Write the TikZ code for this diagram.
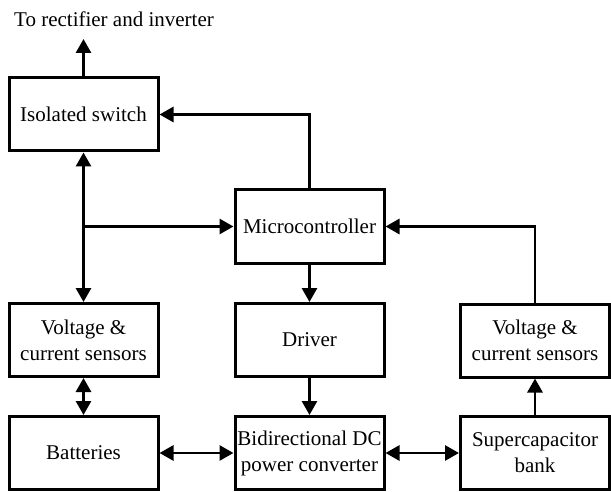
\documentclass[tikz,border=0pt]{standalone}
\usepackage{fontspec}
\setmainfont{Liberation Serif}
\usetikzlibrary{arrows.meta}

\tikzset{
    block/.style={draw, line width=1.5pt, minimum width=74.5pt, minimum height=36.5pt,
        inner sep=1pt, align=center, font=\fontsize{10.5}{13}\selectfont},
    link/.style={line width=1.4pt},
}

\begin{document}
\begin{tikzpicture}[x=0.5pt, y=-0.5pt, >={Triangle[length=7pt,width=7.5pt]}]
        \useasboundingbox (0,0) rectangle (611,492);

        % Blocks
        \node[block] (switch) at (83.5,114.5) {Isolated switch};
        \node[block] (micro) at (309.5,226.5) {Microcontroller};
        \node[block] (sensL) at (83.5,340) {Voltage \&\\current sensors};
        \node[block] (driver) at (309.5,340) {Driver};
        \node[block] (sensR) at (535,340.5) {Voltage \&\\current sensors};
        \node[block] (batt) at (83.5,453) {Batteries};
        \node[block] (conv) at (309.5,453) {Bidirectional DC\\power converter};
        \node[block] (supcap) at (535,453) {Supercapacitor\\bank};

        \coordinate (out) at (83.5,39);
        \node[anchor=base, font=\fontsize{10.5}{13}\selectfont] (dest) at (114,27) {To rectifier and inverter};
        \coordinate (tap) at (switch |- micro);

        % Connections
        \draw[link, ->] (switch) -- (out);
        \draw[link, ->] (micro.north) |- (switch.east);
        \draw[link, ->] (sensR.north) |- (micro.east);
        \draw[link, <->] (switch) -- (sensL);
        \draw[link, ->] (tap) -- (micro.west);
        \draw[link, <->] (sensL) -- (batt);
        \draw[link, <->] (batt) -- (conv);
        \draw[link, <->] (conv) -- (supcap);
        \draw[link, ->] (micro) -- (driver);
        \draw[link, ->] (driver) -- (conv);
        \draw[link, ->] (supcap) -- (sensR);

\end{tikzpicture}
\end{document}
